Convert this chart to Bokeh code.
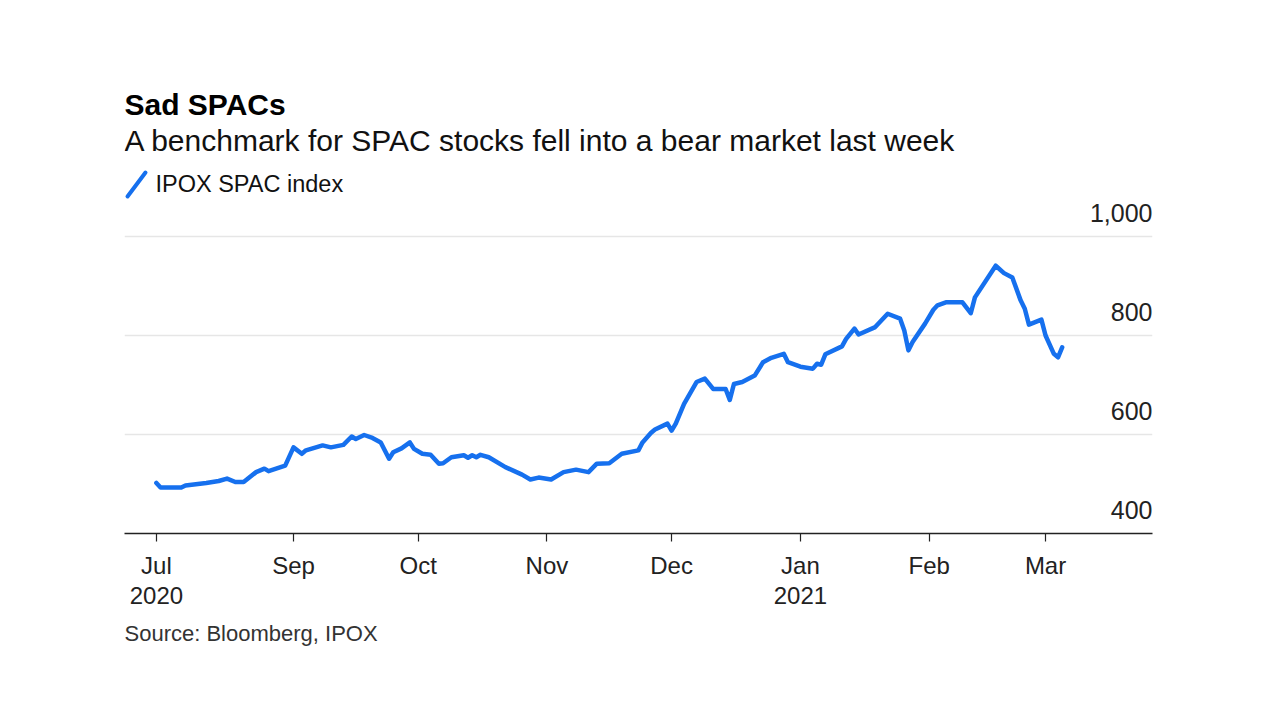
from datetime import datetime, timedelta
from bokeh.plotting import figure
from bokeh.models import Range1d, FixedTicker, ColumnDataSource, Label, Arrow, Title
from bokeh.core.properties import value
from bokeh.embed import file_html
from bokeh.resources import INLINE

# ---------------- data ----------------
dates = [
    "2020-07-30", "2020-07-31", "2020-08-05", "2020-08-06", "2020-08-11", "2020-08-14",
    "2020-08-16", "2020-08-18", "2020-08-20", "2020-08-23", "2020-08-25", "2020-08-26",
    "2020-08-30", "2020-09-01", "2020-09-03", "2020-09-04", "2020-09-08", "2020-09-10",
    "2020-09-13", "2020-09-15", "2020-09-16", "2020-09-18", "2020-09-20", "2020-09-22",
    "2020-09-24", "2020-09-25", "2020-09-27", "2020-09-29", "2020-09-30", "2020-10-02",
    "2020-10-04", "2020-10-06", "2020-10-07", "2020-10-09", "2020-10-12", "2020-10-13",
    "2020-10-14", "2020-10-15", "2020-10-16", "2020-10-18", "2020-10-22", "2020-10-26",
    "2020-10-28", "2020-10-30", "2020-11-02", "2020-11-05", "2020-11-08", "2020-11-11",
    "2020-11-13", "2020-11-16", "2020-11-19", "2020-11-23", "2020-11-24", "2020-11-26",
    "2020-11-27", "2020-11-30", "2020-12-01", "2020-12-02", "2020-12-04", "2020-12-07",
    "2020-12-09", "2020-12-11", "2020-12-14", "2020-12-15", "2020-12-16", "2020-12-18",
    "2020-12-21", "2020-12-23", "2020-12-25", "2020-12-28", "2020-12-29", "2021-01-01",
    "2021-01-04", "2021-01-05", "2021-01-06", "2021-01-07", "2021-01-11", "2021-01-12",
    "2021-01-14", "2021-01-15", "2021-01-19", "2021-01-22", "2021-01-25", "2021-01-26",
    "2021-01-27", "2021-01-28", "2021-01-31", "2021-02-02", "2021-02-03", "2021-02-05",
    "2021-02-09", "2021-02-11", "2021-02-12", "2021-02-17", "2021-02-19", "2021-02-21",
    "2021-02-23", "2021-02-24", "2021-02-25", "2021-02-28", "2021-03-01", "2021-03-03",
    "2021-03-04", "2021-03-05",
]
ipox_spac_index = [
    502, 493, 493, 497, 502, 506,
    511, 504, 504, 524, 531, 526,
    537, 574, 561, 568, 578, 574,
    579, 596, 591, 599, 593, 584,
    551, 564, 572, 584, 571, 561,
    559, 541, 542, 554, 558, 553,
    558, 554, 559, 554, 534, 519,
    509, 513, 509, 524, 529, 524,
    541, 542, 561, 568, 584, 603,
    610, 622, 608, 622, 662, 706,
    713, 692, 692, 670, 702, 706,
    719, 746, 755, 763, 746, 737,
    733, 743, 741, 762, 778, 793,
    814, 802, 817, 844, 834, 810,
    770, 787, 824, 852, 861, 867,
    867, 845, 877, 941, 926, 917,
    871, 854, 822, 832, 800, 763,
    756, 776,
]

x_tick_dates = ["2020-07-30", "2020-09-01", "2020-10-01", "2020-11-01",
                "2020-12-01", "2021-01-01", "2021-02-01", "2021-03-01"]
x_tick_labels = ["Jul\n2020", "Sep", "Oct", "Nov", "Dec", "Jan\n2021", "Feb", "Mar"]
y_tick_values = [400, 600, 800, 1000]
y_tick_labels = ["400", "600", "800", "1,000"]

title_text = "Sad SPACs"
subtitle_text = "A benchmark for SPAC stocks fell into a bear market last week"
legend_text = "IPOX SPAC index"
source_text = "Source: Bloomberg, IPOX"

# ---------------- styling ----------------
FONT = "Liberation Sans"
BLUE = "#1670ee"
EPOCH = datetime(1970, 1, 1)


def to_dt(s):
    return datetime.strptime(s, "%Y-%m-%d")


def to_ms(d):
    return (d - EPOCH).total_seconds() * 1000.0


W, H = 1272, 700
FRAME_LEFT, FRAME_RIGHT, FRAME_TOP, FRAME_BOTTOM = 124, 1152, 60, 533
FRAME_W = FRAME_RIGHT - FRAME_LEFT
FRAME_H = FRAME_BOTTOM - FRAME_TOP
PX_PER_DAY = 4.155
PX_PER_UNIT = 0.495

x_start = datetime(2020, 9, 1) - timedelta(days=(293 - FRAME_LEFT) / PX_PER_DAY)
x_end = x_start + timedelta(days=FRAME_W / PX_PER_DAY)
y_start = 400
y_end = 400 + FRAME_H / PX_PER_UNIT

p = figure(
    width=W, height=H,
    x_axis_type="datetime", y_axis_location=None,
    x_range=Range1d(x_start, x_end), y_range=Range1d(y_start, y_end),
    output_backend="svg", toolbar_location=None,
    min_border_left=FRAME_LEFT, min_border_right=W - FRAME_RIGHT,
    min_border_top=FRAME_TOP, min_border_bottom=H - FRAME_BOTTOM,
)
p.outline_line_color = None
p.background_fill_color = "white"
p.border_fill_color = "white"

# grid
p.xgrid.visible = False
p.ygrid.ticker = FixedTicker(ticks=[v for v in y_tick_values if v > 400])
p.ygrid.grid_line_color = "#e6e6e6"
p.ygrid.grid_line_width = 1.5

# x axis
tick_ms = [to_ms(to_dt(d)) for d in x_tick_dates]
xa = p.xaxis[0]
xa.ticker = FixedTicker(ticks=tick_ms)
xa.major_label_overrides = {t: lab for t, lab in zip(tick_ms, x_tick_labels)}
xa.axis_line_color = "#222222"
xa.axis_line_width = 1.5
xa.major_tick_line_color = "#222222"
xa.major_tick_line_width = 1.2
xa.major_tick_in = 0
xa.major_tick_out = 8
xa.minor_tick_line_color = None
xa.major_label_standoff = 10
xa.major_label_text_font = FONT
xa.major_label_text_font_size = "24px"
xa.major_label_text_color = "#222222"
xa.major_label_text_line_height = 1.12

# y labels (right aligned, above gridlines)
ysrc = ColumnDataSource(dict(x=[x_end] * len(y_tick_values), y=y_tick_values, text=y_tick_labels))
p.text(x="x", y="y", text="text", source=ysrc,
       text_align="right", text_baseline="alphabetic", y_offset=-24,
       text_font=value(FONT), text_font_size="25px", text_color="#222222")

# the series
src = ColumnDataSource(dict(x=[to_dt(d) for d in dates], y=ipox_spac_index))
p.line(x="x", y="y", source=src, line_color=BLUE, line_width=4.5,
       line_join="round", line_cap="round")


# title / subtitle / legend (screen units relative to the frame's bottom-left)
def add_label(text, page_x, page_y, size, color, style="normal"):
    p.add_layout(Label(x=page_x - FRAME_LEFT, y=FRAME_BOTTOM - page_y,
                       x_units="screen", y_units="screen", text=text,
                       text_font=FONT, text_font_size=size, text_color=color,
                       text_font_style=style, text_baseline="alphabetic",
                       text_align="left"))


add_label(title_text, 124, 104, "30px", "#000000", "bold")
add_label(subtitle_text, 124, 140, "30px", "#111111")
add_label(legend_text, 155, 183, "23.5px", "#111111")

p.add_layout(Arrow(end=None,
                   x_start=127 - FRAME_LEFT, y_start=FRAME_BOTTOM - 196,
                   x_end=145 - FRAME_LEFT, y_end=FRAME_BOTTOM - 172,
                   start_units="screen", end_units="screen",
                   line_color=BLUE, line_width=4, line_cap="round"))

# source note under the axis
p.add_layout(Title(text=source_text, align="left", text_font=FONT,
                   text_font_size="22px", text_font_style="normal",
                   text_color="#333333", standoff=15), "below")

open("out.html", "w").write(file_html(p, INLINE))
